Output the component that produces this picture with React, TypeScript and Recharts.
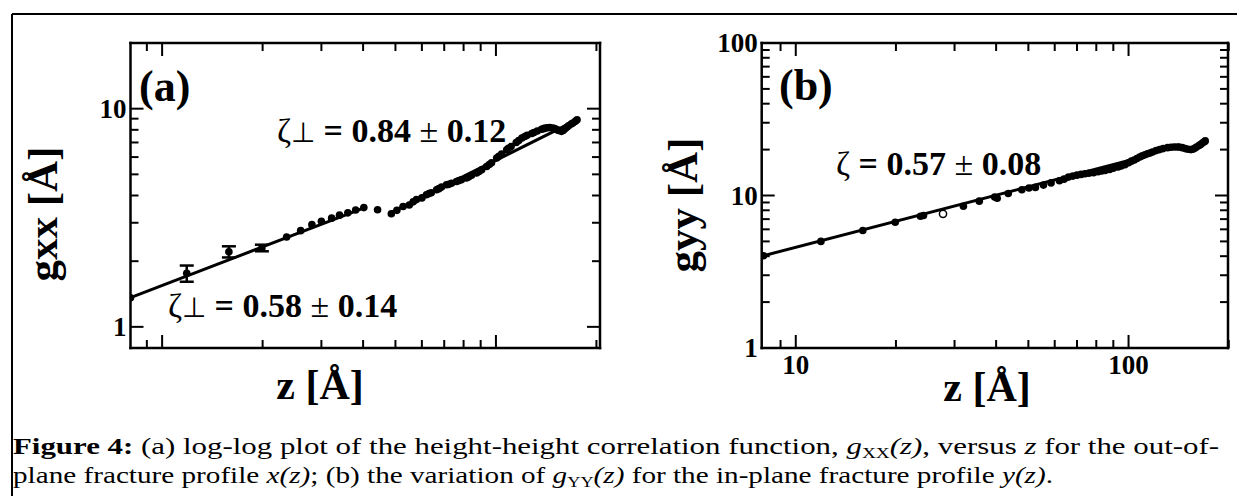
import React from "react";
import { ScatterChart, Scatter, XAxis, YAxis, ErrorBar } from "recharts";

// ---- panel (a): g_xx(z), out-of-plane profile ----
const zA = [8.04, 23.6, 26, 28.1, 30, 32.2, 34, 36, 38, 40.2, 44.2, 48.6, 50.5, 52.7, 55, 56.5, 57.8, 60, 61.9, 63, 64, 66.4, 67.5, 68.7, 71.1, 72.3, 73.6, 76.2, 77.5, 78.8, 81.6, 83, 84.5, 87.5, 89, 90.6, 93.8, 95.5, 97, 100.5, 102, 104, 107.7, 109, 111, 115, 117, 119.6, 122, 124, 128, 130, 133, 137, 139, 140.6, 143, 145, 148, 150, 152, 154, 157, 159, 161, 163, 165, 168, 170, 173, 175];
const gA = [1.36, 2.58, 2.76, 2.94, 3.05, 3.15, 3.25, 3.33, 3.43, 3.52, 3.44, 3.3, 3.42, 3.56, 3.62, 3.74, 3.83, 3.9, 4.03, 4.08, 4.12, 4.25, 4.3, 4.37, 4.48, 4.5, 4.55, 4.64, 4.68, 4.72, 4.81, 4.87, 4.95, 5.07, 5.15, 5.25, 5.43, 5.55, 5.65, 5.94, 6.05, 6.2, 6.48, 6.58, 6.7, 7.0, 7.15, 7.34, 7.45, 7.55, 7.7, 7.78, 7.9, 8.05, 8.1, 8.15, 8.18, 8.2, 8.15, 8.1, 8.02, 7.95, 7.87, 7.95, 8.1, 8.22, 8.35, 8.5, 8.6, 8.75, 8.9];
// points drawn with error bars
const zAErr = [11.85, 15.85, 19.9];
const gAErr = [1.76, 2.21, 2.3];
const eAErr = [0.15, 0.13, 0.08];
// two power-law fits
const fitA1Z = [8.04, 41];
const fitA1G = [1.36, 3.55];
const fitA2Z = [48.6, 178];
const fitA2G = [3.35, 9.0];

// ---- panel (b): g_yy(z), in-plane profile ----
const zB = [8.0, 11.9, 15.9, 19.9, 23.7, 24.2, 31.9, 35.6, 39.6, 40.3, 43.5, 47.8, 50.2, 52.5, 55.5, 58.5, 62, 64, 66, 68, 70, 72, 74, 76, 78.5, 81, 83, 85, 87.7, 90, 93, 95, 97.5, 100, 102, 104, 106, 108, 110, 112, 114, 116, 118, 121, 124, 127, 131, 134, 137, 140, 142, 145, 148, 151, 154, 156, 158, 160, 163, 165, 167, 169, 170];
const gB = [4.03, 5.0, 5.89, 6.67, 7.31, 7.4, 8.5, 9.18, 9.76, 9.6, 10.3, 10.9, 11.2, 11.3, 11.7, 12.1, 12.5, 12.8, 13.2, 13.4, 13.6, 13.75, 13.9, 14.0, 14.1, 14.3, 14.5, 14.6, 14.8, 15.1, 15.4, 15.6, 15.9, 16.4, 16.8, 17.1, 17.5, 17.9, 18.2, 18.5, 18.8, 19.0, 19.3, 19.7, 20.0, 20.3, 20.6, 20.7, 20.8, 20.8, 20.8, 20.6, 20.3, 20.1, 20.0, 20.1, 20.4, 20.8, 21.3, 21.7, 22.2, 22.5, 22.8];
const zBOpen = [27.7];
const gBOpen = [7.58];
const fitBZ = [8.0, 105];
const fitBG = [4.03, 17.4];

// ---- axes ----
const xDomainA = [8.04, 205];
const yDomainA = [0.8, 20];
const xDomainB = [7.9, 199];
const yDomainB = [1, 100];
const xTicks = [9, 10, 20, 30, 40, 50, 60, 70, 80, 90, 100, 200];
const yTicksA = [1, 2, 3, 4, 5, 6, 7, 8, 9, 10];
const yTicksB = [1, 2, 3, 4, 5, 6, 7, 8, 9, 10, 20, 30, 40, 50, 60, 70, 80, 90, 100];
const majors = [1, 10, 100];
const xLabelsB = [10, 100];
const yLabelsA = [1, 10];
const yLabelsB = [1, 10, 100];

const toPts = (zs: number[], gs: number[], es?: number[]) =>
  zs.map((z, i) => (es ? { z, g: gs[i], e: es[i] } : { z, g: gs[i] }));

const SERIF = "'Liberation Serif', 'Times New Roman', serif";
const axisLine = { stroke: "#000", strokeWidth: 2.5, strokeLinecap: "square" as const };

type Side = "bottom" | "top" | "left" | "right";

function makeTick(side: Side, labelled: number[]) {
  return (props: any) => {
    const { x, y, payload } = props;
    const v = payload.value;
    const len = majors.includes(v) ? 13 : 8;
    let x2 = x;
    let y2 = y;
    if (side === "bottom") y2 = y - len;
    if (side === "top") y2 = y + len;
    if (side === "left") x2 = x + len;
    if (side === "right") x2 = x - len;
    const show = labelled.includes(v);
    return (
      <g>
        <line x1={x} y1={y} x2={x2} y2={y2} stroke="#000" strokeWidth={2} />
        {show && side === "bottom" && (
          <text x={x} y={y + 26} textAnchor="middle" fontFamily={SERIF} fontWeight="bold" fontSize={27} fill="#000">
            {v}
          </text>
        )}
        {show && side === "left" && (
          <text x={x - 4} y={y + 9} textAnchor="end" fontFamily={SERIF} fontWeight="bold" fontSize={27} fill="#000">
            {v}
          </text>
        )}
      </g>
    );
  };
}

const dot = (p: any) => <circle cx={p.cx} cy={p.cy} r={3.8} fill="#000" />;
const openDot = (p: any) => <circle cx={p.cx} cy={p.cy} r={3.6} fill="#fff" stroke="#000" strokeWidth={1.5} />;
const noDot = () => <g />;
const fitLine = { stroke: "#000", strokeWidth: 3 };

function Axes({ xd, yd, yTicks, xLab, yLab }: any) {
  return [
    <XAxis key="xb" xAxisId="b" dataKey="z" type="number" scale="log" domain={xd} allowDataOverflow ticks={xTicks} interval={0} tickSize={0} tickMargin={0} tickLine={false} axisLine={axisLine} height={40} tick={makeTick("bottom", xLab)} />,
    <XAxis key="xt" xAxisId="t" dataKey="z" type="number" scale="log" domain={xd} allowDataOverflow orientation="top" ticks={xTicks} interval={0} tickSize={0} tickMargin={0} tickLine={false} axisLine={axisLine} height={1} tick={makeTick("top", [])} />,
    <YAxis key="yl" yAxisId="l" dataKey="g" type="number" scale="log" domain={yd} allowDataOverflow ticks={yTicks} interval={0} tickSize={0} tickMargin={0} tickLine={false} axisLine={axisLine} width={40} tick={makeTick("left", yLab)} />,
    <YAxis key="yr" yAxisId="r" dataKey="g" type="number" scale="log" domain={yd} allowDataOverflow orientation="right" ticks={yTicks} interval={0} tickSize={0} tickMargin={0} tickLine={false} axisLine={axisLine} width={1} tick={makeTick("right", [])} />,
  ];
}

function Zeta({ x, y, perp, value }: { x: number; y: number; perp: boolean; value: string }) {
  const [a, b] = value.split(" ± ");
  return (
    <text x={x} y={y} fontFamily={SERIF} fontSize={34} fill="#000">
      <tspan>ζ</tspan>
      {perp && <tspan fontSize={28}>⊥</tspan>}
      <tspan fontWeight="bold"> = {a} </tspan>
      <tspan>±</tspan>
      <tspan fontWeight="bold"> {b}</tspan>
    </text>
  );
}

export default function App() {
  return (
    <div style={{ position: "absolute", left: 0, top: 0, width: 1237, height: 496, background: "#fff", overflow: "hidden" }}>
      <div style={{ position: "absolute", left: 0, top: 0 }}>
        <ScatterChart width={620} height={420} margin={{ top: 42, right: 19, bottom: 32, left: 90.5 }}>
          {Axes({ xd: xDomainA, yd: yDomainA, yTicks: yTicksA, xLab: [], yLab: yLabelsA })}
          <Scatter xAxisId="b" yAxisId="l" data={toPts(fitA1Z, fitA1G)} line={fitLine} shape={noDot} isAnimationActive={false} />
          <Scatter xAxisId="b" yAxisId="l" data={toPts(fitA2Z, fitA2G)} line={fitLine} shape={noDot} isAnimationActive={false} />
          <Scatter xAxisId="b" yAxisId="l" data={toPts(zA, gA)} shape={dot} isAnimationActive={false} />
          <Scatter xAxisId="b" yAxisId="l" data={toPts(zAErr, gAErr, eAErr)} shape={dot} isAnimationActive={false}>
            <ErrorBar dataKey="e" direction="y" width={7} stroke="#000" strokeWidth={2.5} />
          </Scatter>
        </ScatterChart>
      </div>
      <div style={{ position: "absolute", left: 620, top: 0 }}>
        <ScatterChart width={617} height={420} margin={{ top: 42, right: 8, bottom: 32, left: 101.7 }}>
          {Axes({ xd: xDomainB, yd: yDomainB, yTicks: yTicksB, xLab: xLabelsB, yLab: yLabelsB })}
          <Scatter xAxisId="b" yAxisId="l" data={toPts(fitBZ, fitBG)} line={fitLine} shape={noDot} isAnimationActive={false} />
          <Scatter xAxisId="b" yAxisId="l" data={toPts(zB, gB)} shape={dot} isAnimationActive={false} />
          <Scatter xAxisId="b" yAxisId="l" data={toPts(zBOpen, gBOpen)} shape={openDot} isAnimationActive={false} />
        </ScatterChart>
      </div>

      <svg width={1237} height={496} style={{ position: "absolute", left: 0, top: 0, pointerEvents: "none" }}>
        {/* outer figure frame */}
        <line x1={12} y1={14} x2={1237} y2={14} stroke="#000" strokeWidth={2} />
        <line x1={12} y1={14} x2={12} y2={496} stroke="#000" strokeWidth={2} />

        {/* panel (a) texts */}
        <text x={139} y={101} fontFamily={SERIF} fontWeight="bold" fontSize={44}>(a)</text>
        <Zeta x={277} y={142} perp value="0.84 ± 0.12" />
        <Zeta x={168} y={317} perp value="0.58 ± 0.14" />
        <text x={320} y={399} textAnchor="middle" fontFamily={SERIF} fontWeight="bold" fontSize={42}>z [Å]</text>
        <text transform="translate(57,214) rotate(-90)" textAnchor="middle" fontFamily={SERIF} fontWeight="bold" fontSize={43}>gxx [Å]</text>

        {/* panel (b) texts */}
        <text x={779} y={100} fontFamily={SERIF} fontWeight="bold" fontSize={44}>(b)</text>
        <Zeta x={836} y={175} perp={false} value="0.57 ± 0.08" />
        <text x={987} y={401} textAnchor="middle" fontFamily={SERIF} fontWeight="bold" fontSize={42}>z [Å]</text>
        <text transform="translate(697,205) rotate(-90)" textAnchor="middle" fontFamily={SERIF} fontWeight="bold" fontSize={43}>gyy [Å]</text>

        {/* caption */}
        <text x={13} y={454} fontFamily={SERIF} fontSize={24} textLength={1206} lengthAdjust="spacingAndGlyphs">
          <tspan fontWeight="bold">Figure 4:</tspan> (a) log-log plot of the height-height correlation function, <tspan fontStyle="italic">g</tspan>
          <tspan fontSize={15} dy={4}>XX</tspan>
          <tspan dy={-4} fontStyle="italic">(z)</tspan>, versus <tspan fontStyle="italic">z</tspan> for the out-of-
        </text>
        <text x={13} y={483} fontFamily={SERIF} fontSize={24} textLength={1040} lengthAdjust="spacingAndGlyphs">
          plane fracture profile <tspan fontStyle="italic">x(z)</tspan>; (b) the variation of <tspan fontStyle="italic">g</tspan>
          <tspan fontSize={15} dy={4}>YY</tspan>
          <tspan dy={-4} fontStyle="italic">(z)</tspan> for the in-plane fracture profile <tspan fontStyle="italic">y(z)</tspan>.
        </text>
      </svg>
    </div>
  );
}
